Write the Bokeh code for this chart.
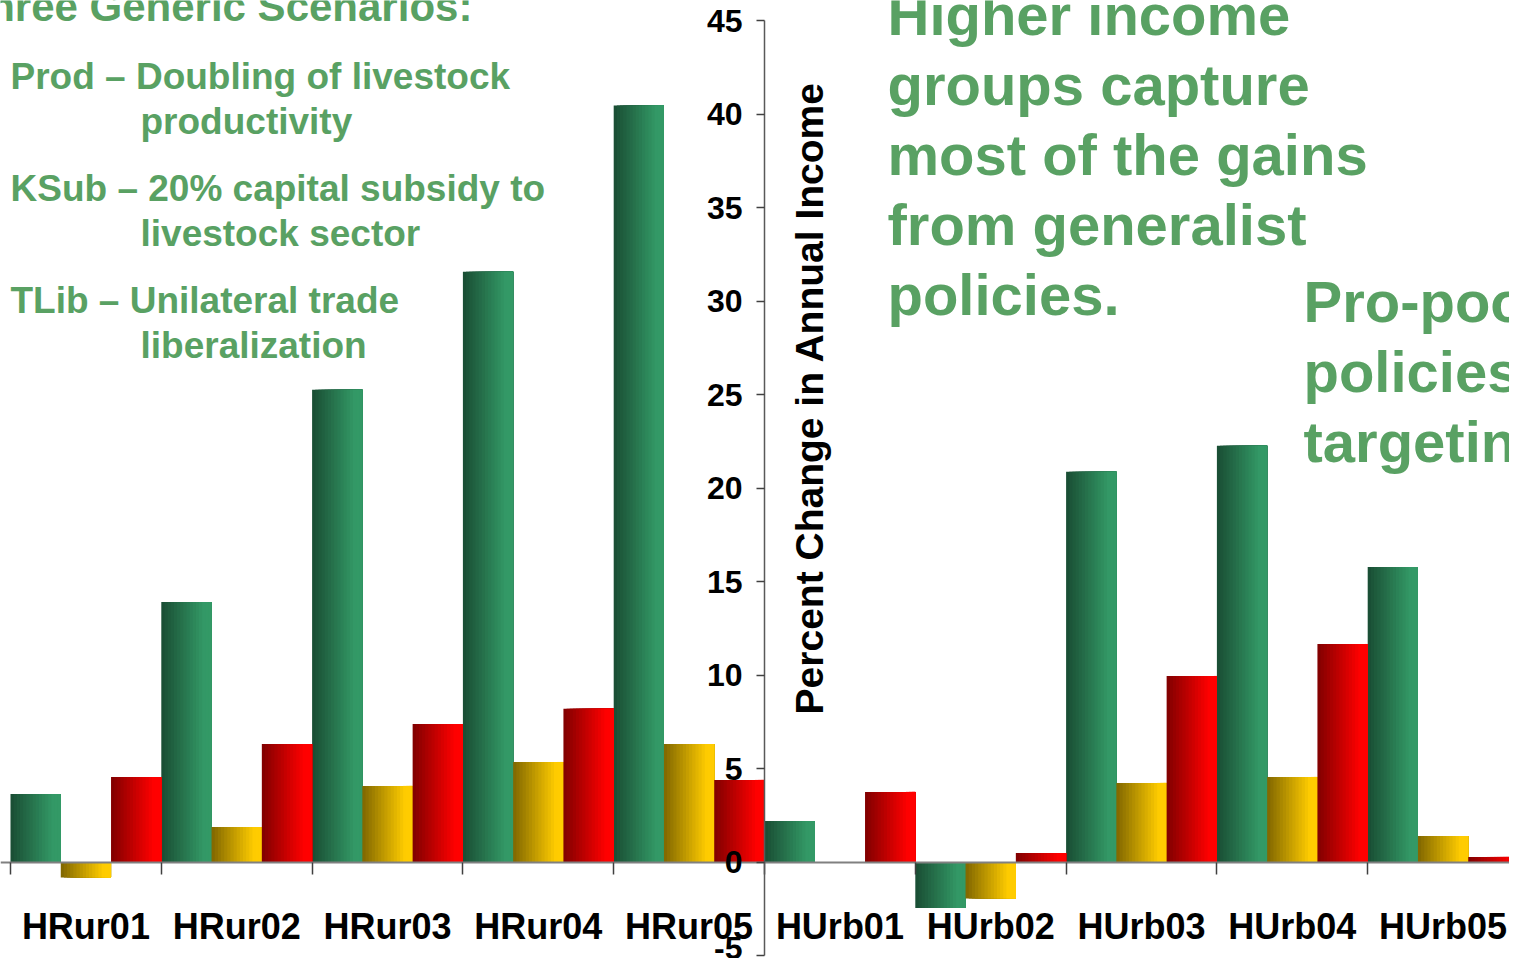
import numpy as np
from bokeh.plotting import figure
from bokeh.models import Range1d, LinearAxis, FixedTicker, Label, CustomJSTickFormatter
from bokeh.embed import file_html
from bokeh.resources import INLINE

# ---------------- data ----------------
categories = ["HRur01", "HRur02", "HRur03", "HRur04", "HRur05",
              "HUrb01", "HUrb02", "HUrb03", "HUrb04", "HUrb05"]
prod = [3.64, 13.91, 25.25, 31.57, 40.45, 2.19, -2.46, 20.87, 22.26, 15.78]
ksub = [-0.83, 1.87, 4.07, 5.35, 6.31, 0.0, -1.95, 4.23, 4.55, 1.39]
tlib = [4.55, 6.31, 7.38, 8.19, 4.39, 3.75, 0.48, 9.95, 11.66, 0.27]
y_ticks = [-5, 0, 5, 10, 15, 20, 25, 30, 35, 40, 45]

scenario_title = "Three Generic Scenarios:"
scenario_lines = [
    ("Prod \u2013 Doubling of livestock", False),
    ("productivity", True),
    ("KSub \u2013 20% capital subsidy to", False),
    ("livestock sector", True),
    ("TLib \u2013 Unilateral trade", False),
    ("liberalization", True),
]
note1_lines = ["Higher income", "groups capture", "most of the gains",
               "from generalist", "policies."]
note2_lines = ["Pro-poor", "policies", "targeting"]
y_title = "Percent Change in Annual Income"

# ---------------- layout helpers ----------------
W, H = 1509, 958
CW = 150.8                # px per category
X0 = 10                   # x of category 0 left edge
PY = 18.7                 # px per percent
Y0 = 861.5                # y of zero
BL = 0.33                 # baseline correction (fraction of font size)


def dx(px):
    return (px - X0) / CW


def dy(py):
    return (Y0 - py) / PY


x_range = Range1d(dx(0), dx(W))
y_range = Range1d(dy(H), dy(0))

p = figure(width=W, height=H, x_range=x_range, y_range=y_range,
           x_axis_location=None, y_axis_location=None,
           toolbar_location=None, output_backend="svg",
           min_border=0, outline_line_color=None,
           background_fill_color="white", border_fill_color="white")
for g in p.grid:
    g.visible = False

FONT = "Liberation Sans"
GREEN_TXT = "#59A163"

# ---------------- bars with horizontal gradient ----------------
series = [(prod, (51, 153, 102)), (ksub, (255, 204, 0)), (tlib, (255, 0, 0))]
N = 16
n = len(categories)
for j, (vals, rgb) in enumerate(series):
    light = np.array(rgb, dtype=float)
    dark = light * 0.5
    lefts, rights, tops, colors = [], [], [], []
    for k in range(N):
        t = min(((k + 0.5) / N) / 0.85, 1.0)
        c = dark + (light - dark) * t
        col = "#%02x%02x%02x" % tuple(int(round(v)) for v in c)
        for i in range(n):
            bar_left = i + j / 3.0
            lefts.append(bar_left + k * (1.0 / 3.0) / N)
            rights.append(bar_left + 1.0 / 3.0)
            tops.append(vals[i])
            colors.append(col)
    p.quad(left=lefts, right=rights, bottom=0, top=tops,
           fill_color=colors, line_color=None)

# ---------------- axes ----------------
xaxis = LinearAxis(fixed_location=0,
                   ticker=FixedTicker(ticks=list(range(n + 1))),
                   formatter=CustomJSTickFormatter(code="return ''"),
                   axis_line_color="#808080", axis_line_width=2,
                   major_tick_line_color="#404040", major_tick_line_width=1.5,
                   major_tick_in=0, major_tick_out=12,
                   minor_tick_line_color=None)
p.add_layout(xaxis, "below")

label_axis = LinearAxis(fixed_location=0,
                        ticker=FixedTicker(ticks=[i + 0.5 for i in range(n)]),
                        formatter=CustomJSTickFormatter(args=dict(cats=categories),
                                                        code="return cats[Math.floor(tick)] || ''"),
                        axis_line_color=None, major_tick_line_color=None,
                        minor_tick_line_color=None,
                        major_tick_in=0, major_tick_out=0,
                        major_label_standoff=44,
                        major_label_text_font=FONT,
                        major_label_text_font_size="36px",
                        major_label_text_font_style="bold",
                        major_label_text_color="black")
p.add_layout(label_axis, "below")

yaxis = LinearAxis(fixed_location=5, bounds=(-5, 45),
                   ticker=FixedTicker(ticks=y_ticks),
                   formatter=CustomJSTickFormatter(code="return String(Math.round(tick))"),
                   axis_line_color="#595959", axis_line_width=1.5,
                   major_tick_line_color="#404040", major_tick_line_width=1.5,
                   major_tick_in=0, major_tick_out=8,
                   minor_tick_line_color=None,
                   major_label_standoff=14,
                   major_label_text_font=FONT,
                   major_label_text_font_size="32px",
                   major_label_text_font_style="bold",
                   major_label_text_color="black")
p.add_layout(yaxis, "left")


# ---------------- texts ----------------
def add_text(txt, px, base_py, size, color=GREEN_TXT):
    p.add_layout(Label(x=dx(px), y=dy(base_py - BL * size), text=txt,
                       text_align="left", text_baseline="alphabetic",
                       text_font=FONT, text_font_size="%dpx" % size,
                       text_font_style="bold", text_color=color))


TS = 39
p.add_layout(Label(x=dx(822 - BL * TS), y=dy(397.5), text=y_title, angle=np.pi / 2,
                   text_align="center", text_baseline="alphabetic",
                   text_font=FONT, text_font_size="%dpx" % TS, text_font_style="bold",
                   text_color="black"))

add_text(scenario_title, -37, 20, 42)

base = [88, 133, 200, 245, 312, 357]
for (txt, indent), b in zip(scenario_lines, base):
    add_text(txt, 140 if indent else 10, b, 37)

for k, txt in enumerate(note1_lines):
    add_text(txt, 887, 33 + 70 * k, 58)

for k, txt in enumerate(note2_lines):
    add_text(txt, 1303, 320 + 70 * k, 58)

open("out.html", "w").write(file_html(p, INLINE))
